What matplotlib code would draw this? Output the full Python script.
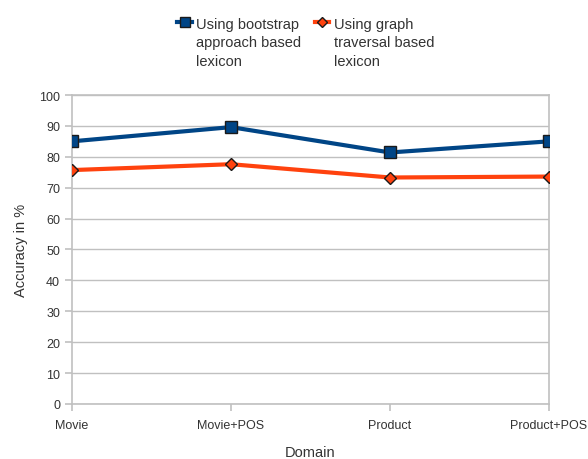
import numpy as np
import matplotlib.pyplot as plt

plt.rcParams['font.family'] = ['Liberation Sans', 'DejaVu Sans']

domains = ["Movie", "Movie+POS", "Product", "Product+POS"]
bootstrap = [85.0, 89.6, 81.4, 85.0]
graph = [75.7, 77.6, 73.3, 73.6]
labels = ["Using bootstrap\napproach based\nlexicon", "Using graph\ntraversal based\nlexicon"]

fig = plt.figure(figsize=(5.88, 4.6), dpi=100)
ax = fig.add_axes([0.1224, 0.1196, 0.8113, 0.6717])

x = np.arange(len(domains))
ax.plot(x, bootstrap, color="#004586", lw=3, marker="s", ms=9,
        mfc="#004586", mec="#1a1a1a", mew=1, label=labels[0], zorder=3)
ax.plot(x, graph, color="#ff420e", lw=3, marker="D", ms=6.5,
        mfc="#ff420e", mec="#1a1a1a", mew=1, label=labels[1], zorder=3)

ax.set_xlim(0, 3)
ax.set_ylim(0, 100)
ax.set_yticks(range(0, 101, 10))
ax.set_xticks(x)
ax.set_xticklabels(domains)
ax.grid(axis="y", color="#c0c0c0", lw=1)
ax.set_axisbelow(True)
for s in ax.spines.values():
    s.set_color("#c0c0c0")
    s.set_linewidth(1.2)
ax.tick_params(colors="#c0c0c0", labelcolor="#333333", labelsize=9, length=5, width=1.2)
ax.tick_params(axis="x", pad=6)

ax.set_xlabel("Domain", fontsize=10.5, color="#333333", labelpad=10)
ax.set_ylabel("Accuracy in %", fontsize=10.5, color="#333333", labelpad=8)

leg = fig.legend(loc="upper center", bbox_to_anchor=(0.52, 0.99), ncol=2, frameon=False,
                 fontsize=10.5, handlelength=1.0, handletextpad=0.3, columnspacing=0.9,
                 labelcolor="#333333", markerscale=0.8)
for t in leg.get_texts():
    t.set_linespacing(1.4)
# put the handle next to the first text line
for col in leg._legend_handle_box.get_children():
    for item in col.get_children():
        item.align = "top"

fig.savefig("out.png", dpi=100)
